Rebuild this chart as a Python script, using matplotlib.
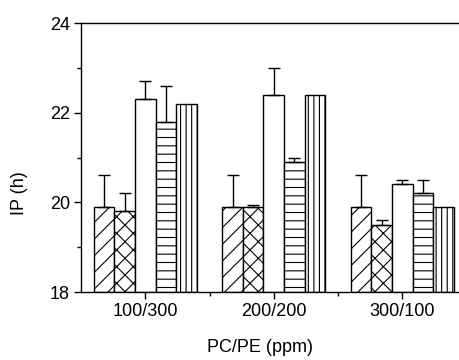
import matplotlib
matplotlib.use("Agg")
import matplotlib.pyplot as plt
import numpy as np
from matplotlib.ticker import MultipleLocator, FixedLocator

plt.rcParams['font.family'] = ['Liberation Sans', 'DejaVu Sans']
plt.rcParams['hatch.linewidth'] = 0.8

categories = ["100/300", "200/200", "300/100"]
s1 = [19.9, 19.9, 19.9]
e1 = [0.7, 0.7, 0.7]
s2 = [19.8, 19.9, 19.5]
e2 = [0.4, 0.05, 0.1]
s3 = [22.3, 22.4, 20.4]
e3 = [0.4, 0.6, 0.1]
s4 = [21.8, 20.9, 20.2]
e4 = [0.8, 0.1, 0.3]
s5 = [22.2, 22.4, 19.9]
e5 = [0.0, 0.0, 0.0]

series = [s1, s2, s3, s4, s5]
errs = [e1, e2, e3, e4, e5]
hatches = ['//', 'xx', '', '--', '|||']

W, H = 459, 360
fig = plt.figure(figsize=(W / 100, H / 100), dpi=100)
left, right, top, bottom = 81, 466.5, 23, 292
ax = fig.add_axes([left / W, 1 - bottom / H, (right - left) / W, (bottom - top) / H])

x = np.arange(1, len(categories) + 1)
bw = 0.16
for i, (vals, er, h) in enumerate(zip(series, errs, hatches)):
    pos = x + (i - 2) * bw
    heights = np.array(vals) - 18
    ax.bar(pos, heights, bw, bottom=18, facecolor='white', edgecolor='black',
           hatch=h, linewidth=1.0, zorder=2)
    er_arr = np.array(er)
    mask = er_arr > 0
    if mask.any():
        ax.errorbar(pos[mask], np.array(vals)[mask],
                    yerr=[np.zeros(mask.sum()), er_arr[mask]],
                    fmt='none', ecolor='black', elinewidth=1.0, capsize=4,
                    capthick=1.0, zorder=3)

ax.set_xlim(0.5, 3.5)
ax.set_ylim(18, 24)
ax.set_xticks(x)
ax.set_xticklabels(categories)
ax.xaxis.set_minor_locator(FixedLocator([1.5, 2.5]))
ax.yaxis.set_major_locator(MultipleLocator(2))
ax.yaxis.set_minor_locator(MultipleLocator(1))
ax.tick_params(which='major', direction='out', length=5, width=1, labelsize=13, pad=3)
ax.tick_params(which='minor', direction='out', length=3, width=1)
ax.tick_params(axis='x', which='both', top=False)
ax.tick_params(axis='y', which='both', right=False)
for sp in ax.spines.values():
    sp.set_linewidth(1.0)

ax.set_ylabel('IP (h)', fontsize=13)
ax.set_xlabel('PC/PE (ppm)', fontsize=13)
ax.yaxis.set_label_coords((20 - left) / (right - left), (bottom - 193) / (bottom - top))
ax.xaxis.set_label_coords((260 - left) / (right - left), -(348 - bottom) / (bottom - top), )
ax.xaxis.label.set_va('center')
ax.yaxis.label.set_va('center')

fig.savefig('out.png', dpi=100)
